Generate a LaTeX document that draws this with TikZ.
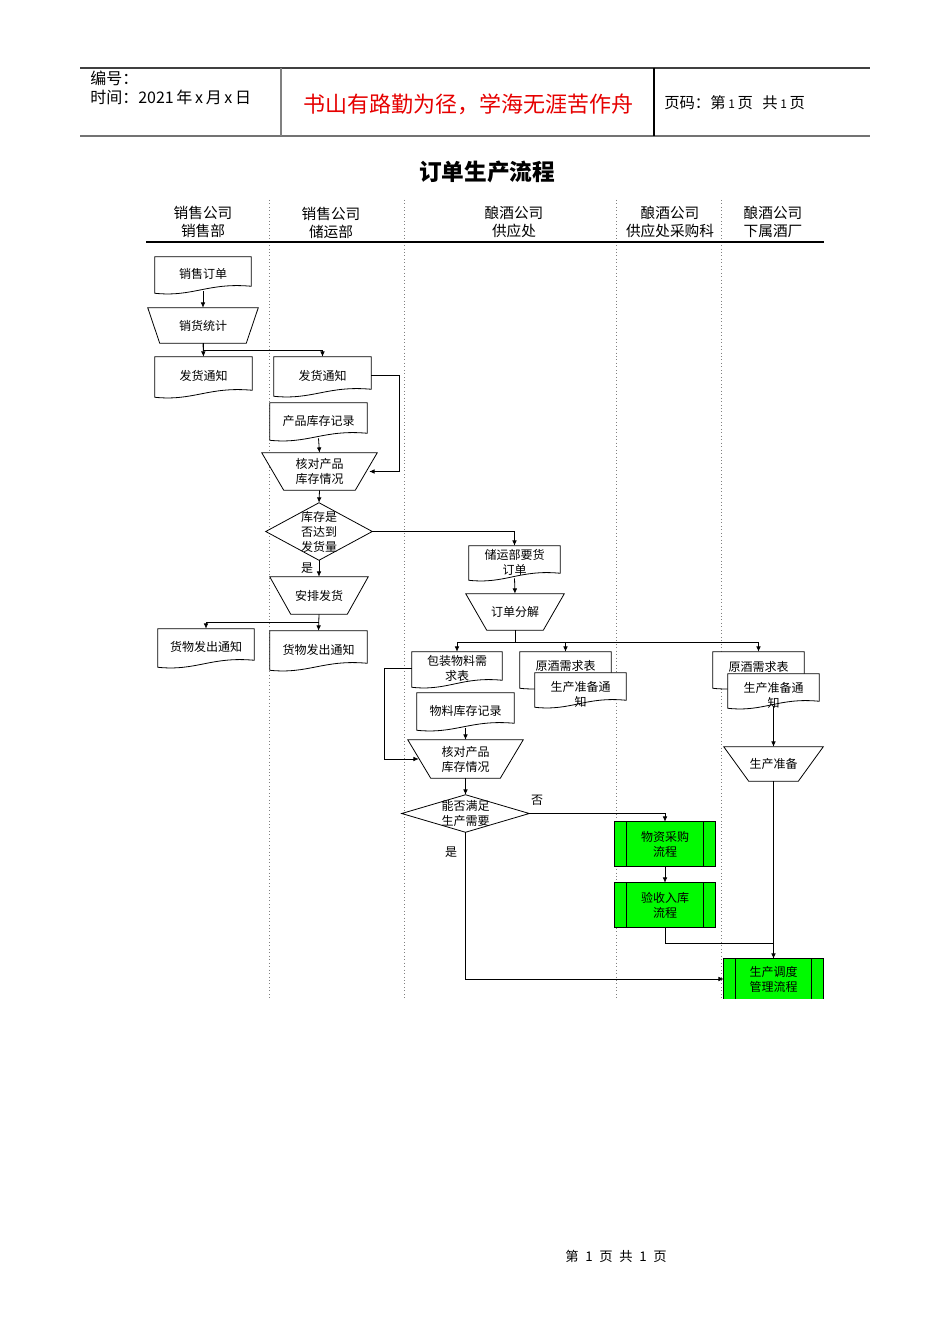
\documentclass[tikz,border=0pt]{standalone}
\usepackage{fontspec}
\setmainfont{Noto Sans CJK SC}
\usetikzlibrary{calc,arrows.meta}
\pgfdeclarelayer{lanes}
\pgfdeclarelayer{bg}
\pgfsetlayers{lanes,bg,main}
\definecolor{procgreen}{RGB}{0,250,0}
\definecolor{hdred}{RGB}{230,0,0}
\tikzset{
  nd/.style={inner sep=0pt, align=center, font=\fontsize{9}{11.25}\selectfont},
  wh/.style 2 args={minimum width=#1*0.75pt, minimum height=#2*0.75pt},
  shp/.style={draw=black, line width=0.6pt, fill=white},
  arr/.style={draw=black, line width=0.6pt, -{Latex[length=4pt,width=3.5pt]}},
  ln/.style={draw=black, line width=0.6pt},
  lane/.style={draw=gray, dotted, line width=0.6pt},
  lbl/.style={inner sep=0pt, font=\fontsize{9}{11}\selectfont},
  hd/.style={inner sep=0pt, align=center, font=\fontsize{11}{13.5}\selectfont},
}
\newcommand{\docfig}[1]{\begin{pgfonlayer}{bg}\draw[shp] (#1.north west) -- (#1.north east) -- ($(#1.south east)+(0,-5)$) .. controls ($(#1.south west)!0.55!(#1.south east)+(0,-9)$) and ($(#1.south west)!0.4!(#1.south east)+(0,6)$) .. ($(#1.south west)+(0,2)$) -- cycle;\end{pgfonlayer}}
\newcommand{\trapfig}[2]{\begin{pgfonlayer}{bg}\draw[shp] (#1.north west) -- (#1.north east) -- ($(#1.south east)+(-#2,0)$) -- ($(#1.south west)+(#2,0)$) -- cycle;\end{pgfonlayer}}
\newcommand{\diafig}[1]{\begin{pgfonlayer}{bg}\draw[shp] (#1.north) -- (#1.east) -- (#1.south) -- (#1.west) -- cycle;\end{pgfonlayer}}
\newcommand{\procfig}[1]{\begin{pgfonlayer}{bg}\draw[shp,fill=procgreen] (#1.north west) rectangle (#1.south east);\draw[ln] ($(#1.north west)+(12,0)$) -- ($(#1.south west)+(12,0)$);\draw[ln] ($(#1.north east)+(-12,0)$) -- ($(#1.south east)+(-12,0)$);\end{pgfonlayer}}
\begin{document}
\begin{tikzpicture}[x=0.75pt,y=-0.75pt]
\useasboundingbox (0,0) rectangle (950,1344);
\begin{pgfonlayer}{lanes}
\fill[white] (0,0) rectangle (950,1344);
\foreach \lx in {269,404,616,721} {\draw[lane] (\lx,200) -- (\lx,998);}
\end{pgfonlayer}
% header
\draw[line width=0.8pt, black!75] (80,68) -- (870,68);
\draw[line width=1.3pt, black!55] (80,136) -- (870,136);
\draw[line width=0.8pt, black!50] (281,68) -- (281,136);
\draw[line width=0.8pt, black] (654,68) -- (654,136);
\node[anchor=base west, inner sep=0pt, font=\fontsize{12}{14}\selectfont] (bh) at (90,85) {编号：};
\node[anchor=base west, inner sep=0pt, font=\fontsize{12}{14}\selectfont] (sj) at (90,104) {时间：2021\,年\,x\,月\,x\,日};
\node[inner sep=0pt, font=\fontsize{16.5}{18}\selectfont, text=hdred] (motto) at (468,104) {书山有路勤为径，学海无涯苦作舟};
\node[anchor=west, inner sep=0pt, font=\fontsize{11.5}{13}\selectfont] (ym) at (664,103) {页码：第\hspace{2pt}{\fontsize{9}{10}\selectfont 1}\hspace{2pt}页\hspace{7pt}共\hspace{2pt}{\fontsize{9}{10}\selectfont 1}\hspace{2pt}页};
\node[inner sep=0pt, font=\bfseries\fontsize{17}{20}\selectfont] (title) at (487,172) {订单生产流程};
% lane headers
\node[hd] (h1) at (203,222) {销售公司\\销售部};
\node[hd] (h2) at (331,223) {销售公司\\储运部};
\node[hd] (h3) at (514,222) {酿酒公司\\供应处};
\node[hd] (h4) at (670,222) {酿酒公司\\供应处采购科};
\node[hd] (h5) at (773,222) {酿酒公司\\下属酒厂};
\draw[line width=0.8pt] (146,242) -- (824,242);
% nodes
\node[nd,wh={96}{34}] (so) at (203,274) {销售订单}; \docfig{so}
\node[nd,wh={110}{35}] (tj) at (203,325.5) {销货统计}; \trapfig{tj}{12}
\node[nd,wh={97}{38}] (fh1) at (203.5,376) {发货通知}; \docfig{fh1}
\node[nd,wh={97}{37}] (fh2) at (322.5,375.5) {发货通知}; \docfig{fh2}
\node[nd,wh={97}{35}] (kc1) at (318.5,420.5) {产品库存记录}; \docfig{kc1}
\node[nd,wh={115}{37}] (hd1) at (319.5,471.5) {核对产品\\库存情况}; \trapfig{hd1}{22}
\node[nd,wh={106}{57}] (dm1) at (319,531.5) {库存是\\否达到\\发货量}; \diafig{dm1}
\node[nd,wh={98}{37}] (ap) at (319,595.5) {安排发货}; \trapfig{ap}{21}
\node[nd,wh={96}{36}] (hw1) at (206,647) {货物发出通知}; \docfig{hw1}
\node[nd,wh={97}{37}] (hw2) at (318.5,649.5) {货物发出通知}; \docfig{hw2}
\node[nd,wh={91}{32}] (yh) at (514.5,562) {储运部要货\\订单}; \docfig{yh}
\node[nd,wh={98}{36}] (fj) at (515,612) {订单分解}; \trapfig{fj}{21}
\node[nd,wh={90}{33}] (bz) at (457,668.5) {包装物料需\\求表}; \docfig{bz}
\node[nd,wh={91}{34}] (yj1) at (565.5,669) {}; \docfig{yj1}
\node[nd] (yj1t) at (565.5,666) {原酒需求表};
\node[nd,wh={91}{32}] (sc1) at (580.5,689) {}; \docfig{sc1}
\node[nd] (sc1t) at (580.5,694.5) {生产准备通\\知};
\node[nd,wh={91}{34}] (yj2) at (758.5,669) {}; \docfig{yj2}
\node[nd] (yj2t) at (758.5,667) {原酒需求表};
\node[nd,wh={91}{32}] (sc2) at (773.5,690) {}; \docfig{sc2}
\node[nd] (sc2t) at (773.5,695) {生产准备通\\知};
\node[nd,wh={97}{35}] (wl) at (465.5,710.5) {物料库存记录}; \docfig{wl}
\node[nd,wh={115}{38}] (hd2) at (465.5,759) {核对产品\\库存情况}; \trapfig{hd2}{23}
\node[nd,wh={127}{37}] (dm2) at (465.5,813.5) {能否满足\\生产需要}; \diafig{dm2}
\node[nd,wh={99}{34}] (sz) at (773.5,764) {生产准备}; \trapfig{sz}{25}
\node[nd,wh={100}{44}] (cg) at (665,844) {物资采购\\流程}; \procfig{cg}
\node[nd,wh={100}{44}] (ys) at (665,905) {验收入库\\流程}; \procfig{ys}
\node[nd,wh={99}{40}] (dd) at (773.5,979) {生产调度\\管理流程};
\begin{pgfonlayer}{bg}
\begin{scope}
\clip (700,950) rectangle (850,998);
\draw[shp,fill=procgreen] (dd.north west) rectangle ($(dd.south east)+(0,10)$);
\draw[ln] ($(dd.north west)+(12,0)$) -- ($(dd.south west)+(12,10)$);
\draw[ln] ($(dd.north east)+(-12,0)$) -- ($(dd.south east)+(-12,10)$);
\end{scope}
\end{pgfonlayer}
% connectors
\draw[arr] (so.south) -- (tj.north);
\draw[arr] (tj.south) -- (fh1.north);
\draw[arr] (tj.south) -- ++(0,7) -| (fh2.north);
\draw[arr] (fh2.east) -- ++(28,0) |- ($(hd1.east)+(-8,0)$);
\draw[arr] (kc1.south) -- (hd1.north);
\draw[arr] (hd1.south) -- (dm1.north);
\draw[arr] (dm1.east) -| (yh.north);
\draw[arr] (dm1.south) -- (ap.north);
\node[lbl] (shi1) at (307,568) {是};
\draw[arr] (ap.south) -- (hw2.north);
\draw[arr] ($(ap.south)+(0,8)$) -| (hw1.north);
\draw[arr] (yh.south) -- (fj.north);
\coordinate (fjb) at ($(fj.south)+(0,12)$);
\draw[ln] (fj.south) -- (fjb);
\draw[arr] (fjb) -| (bz.north);
\draw[arr] (fjb) -| (yj1.north);
\draw[arr] (fjb) -| (yj2.north);
\draw[arr] (sc2.south) -- (sz.north);
\draw[arr] (bz.west) -- ++(-27,0) |- ($(hd2.west)+(11,0)$);
\draw[arr] (wl.south) -- (hd2.north);
\draw[arr] (hd2.south) -- (dm2.north);
\draw[arr] (dm2.east) -| (cg.north);
\node[lbl] (fou) at (537,800) {否};
\draw[arr] (cg.south) -- (ys.north);
\coordinate (jn) at (773.5,943);
\draw[ln] (ys.south) |- (jn);
\draw[arr] (sz.south) -- (dd.north);
\draw[arr] (dm2.south) |- (dd.west);
\node[lbl] (shi2) at (451,852) {是};
% footer
\node[inner sep=0pt, font=\fontsize{10}{12}\selectfont] (ft) at (616,1256) {第\hspace{5pt}1\hspace{5pt}页\hspace{5pt}共\hspace{5pt}1\hspace{5pt}页};
\end{tikzpicture}
\end{document}
